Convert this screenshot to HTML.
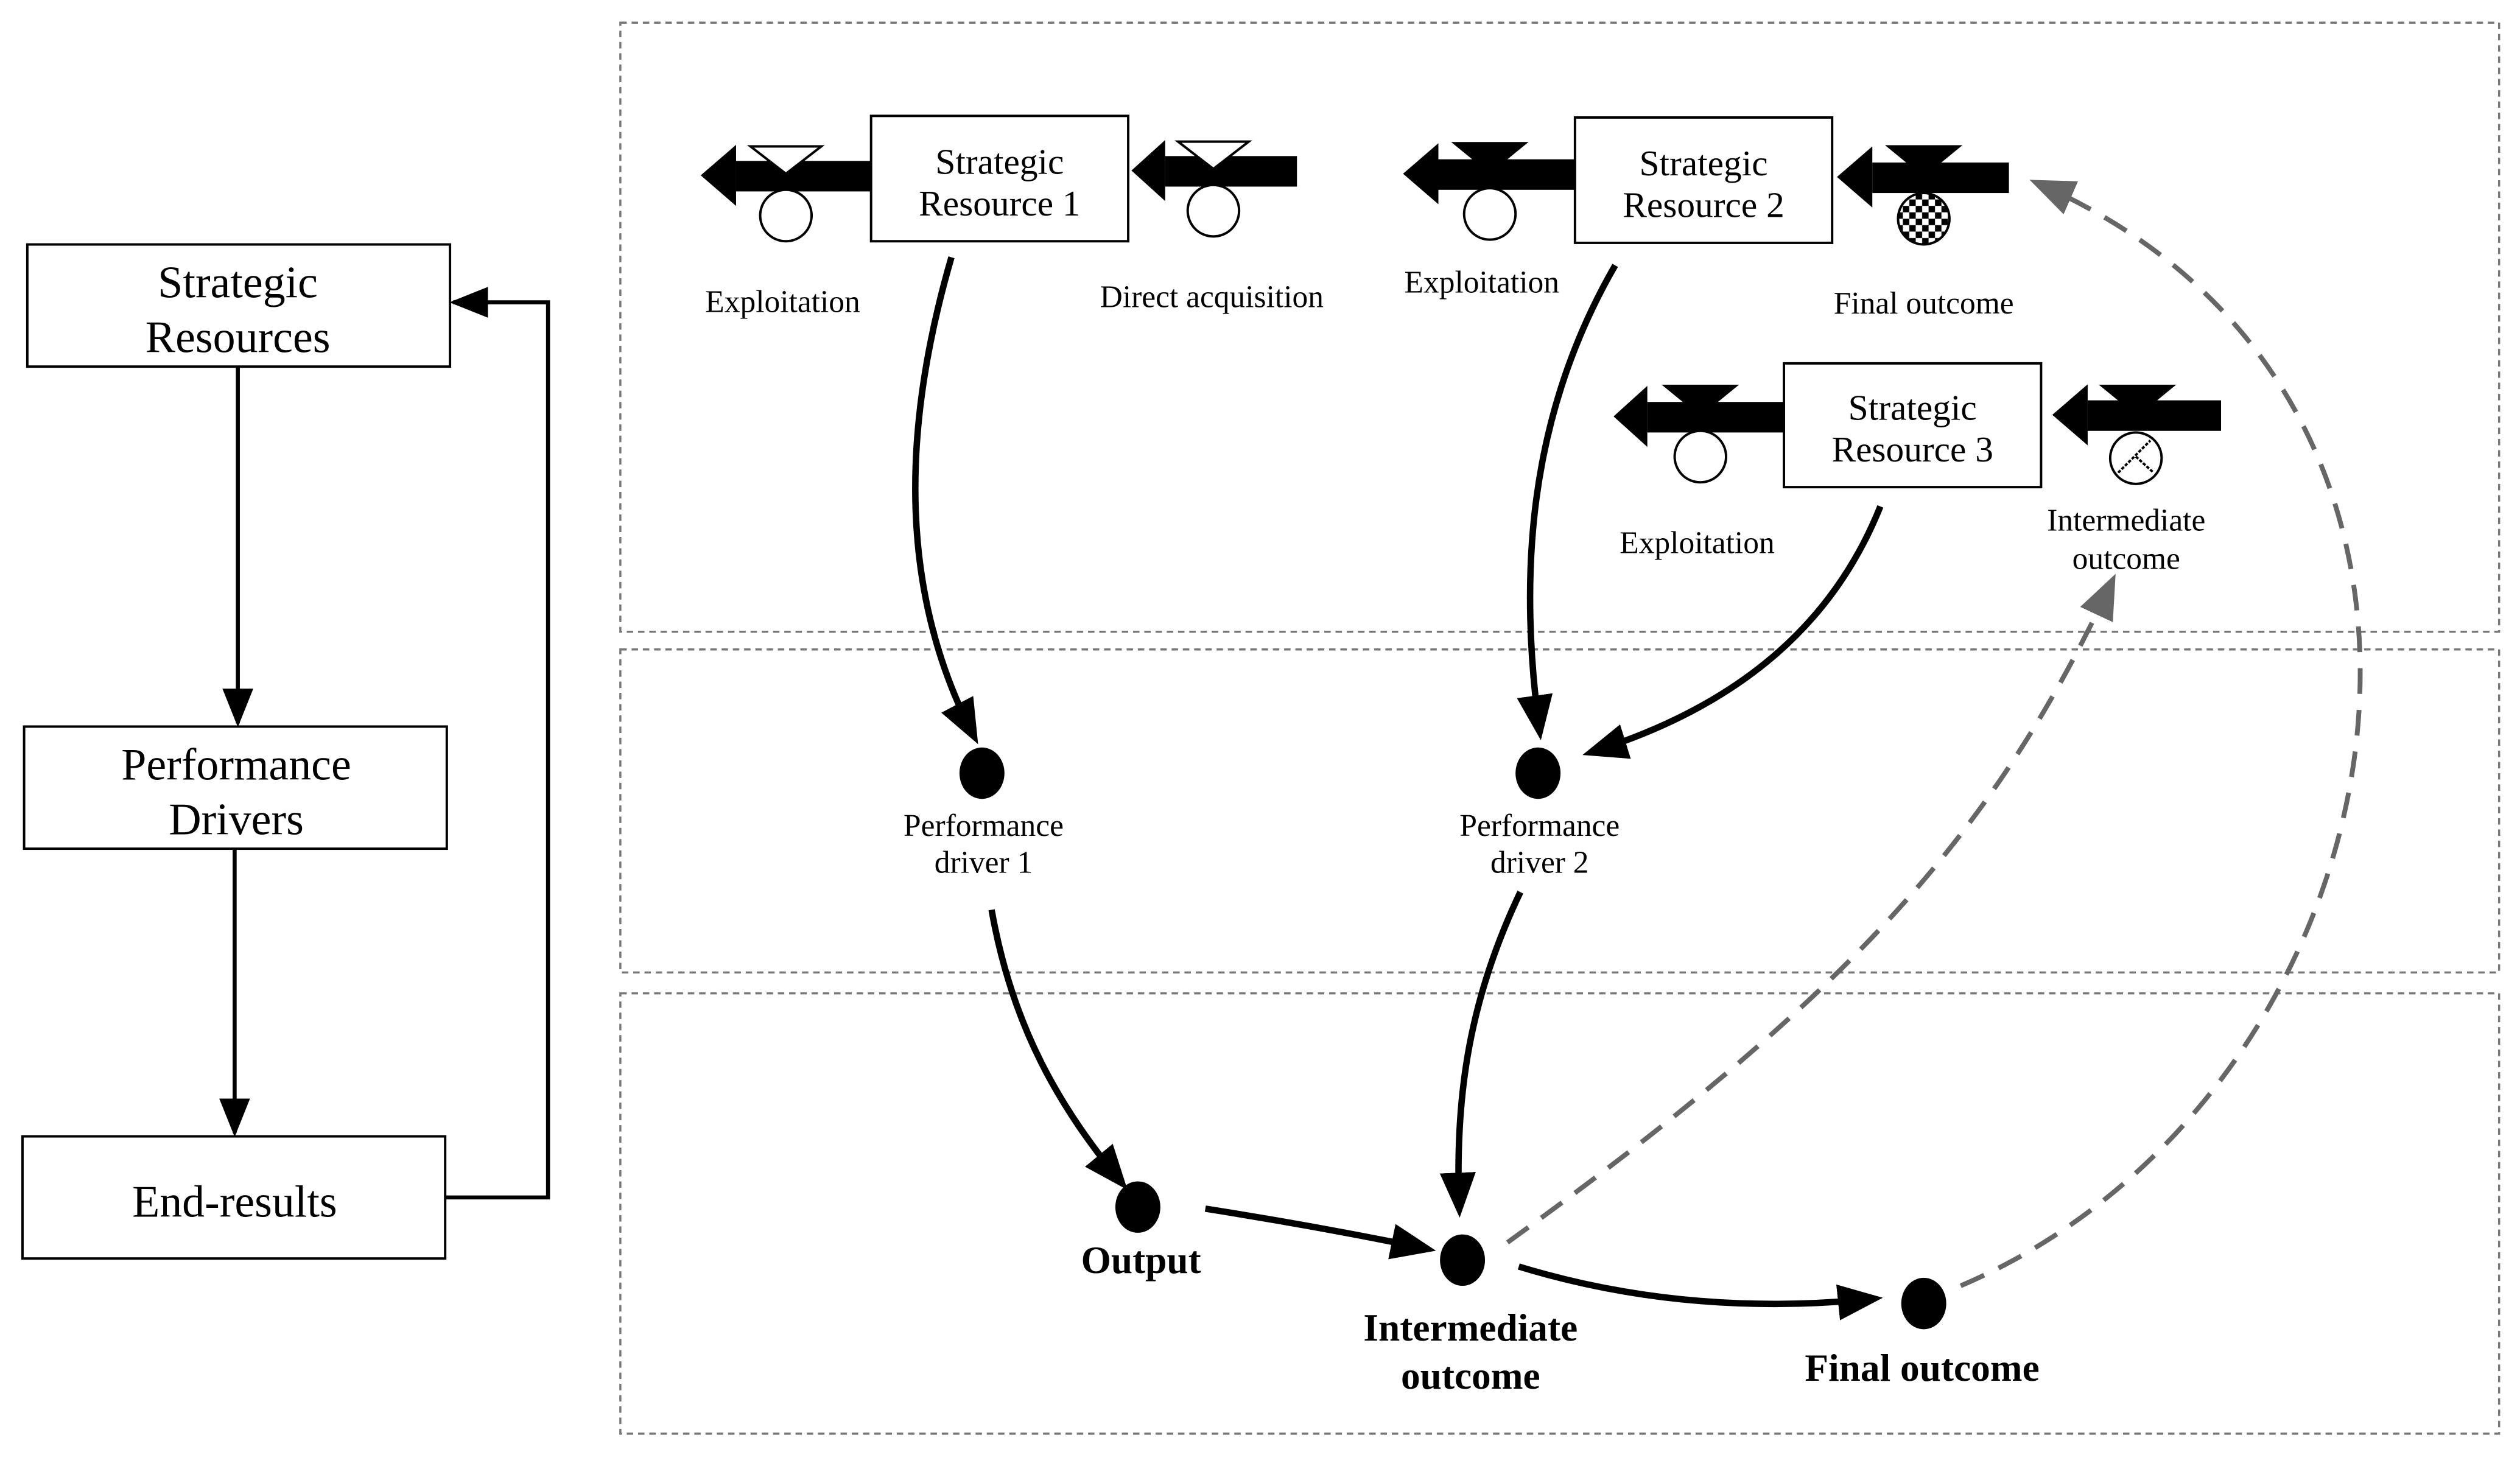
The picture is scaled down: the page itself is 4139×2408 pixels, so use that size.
<!DOCTYPE html>
<html><head><meta charset="utf-8"><style>
html,body{margin:0;padding:0;background:#fff;}
svg{display:block;}
text{font-family:"Liberation Serif",serif;fill:#000;}
</style></head><body>
<svg width="4139" height="2408" viewBox="0 0 1568 912" xmlns="http://www.w3.org/2000/svg">
<defs>
<marker id="ab" viewBox="0 0 10 10" refX="8" refY="5" markerWidth="28" markerHeight="28" orient="auto" markerUnits="userSpaceOnUse"><path d="M0,1 L10,5 L0,9 z" fill="#000"/></marker>
<marker id="ag" viewBox="0 0 10 10" refX="8" refY="5" markerWidth="28" markerHeight="28" orient="auto" markerUnits="userSpaceOnUse"><path d="M0,1 L10,5 L0,9 z" fill="#666"/></marker>
<marker id="al" viewBox="0 0 10 10" refX="9" refY="5" markerWidth="24" markerHeight="24" orient="auto" markerUnits="userSpaceOnUse"><path d="M0,1 L10,5 L0,9 z" fill="#000"/></marker>
<pattern id="chk" width="8" height="8" patternUnits="userSpaceOnUse"><rect width="8" height="8" fill="#fff"/><rect width="4" height="4" fill="#000"/><rect x="4" y="4" width="4" height="4" fill="#000"/></pattern>
</defs>

<!-- Left column -->
<g stroke="#000" stroke-width="1.5" fill="#fff">
<rect x="17" y="152" width="263" height="76"/>
<rect x="15" y="452" width="263" height="76"/>
<rect x="14" y="707" width="263" height="76"/>
</g>
<g font-size="28" text-anchor="middle">
<text x="148" y="185">Strategic</text><text x="148" y="219">Resources</text>
<text x="147" y="485">Performance</text><text x="147" y="519">Drivers</text>
<text x="146" y="757">End-results</text>
</g>
<g stroke="#000" stroke-width="2.5" fill="none">
<path d="M148,228 L148,450" marker-end="url(#al)"/>
<path d="M146,528 L146,705" marker-end="url(#al)"/>
<path d="M277,745 L341,745 L341,188 L282,188" marker-end="url(#al)"/>
</g>

<!-- Panels -->
<g stroke="#777" stroke-width="1.3" stroke-dasharray="4,3" fill="none">
<rect x="386" y="14" width="1169" height="379"/>
<rect x="386" y="404" width="1169" height="201"/>
<rect x="386" y="618" width="1169" height="274"/>
</g>

<!-- Flow arrows -->
<g fill="#000">
<rect x="458" y="100" width="84" height="19"/><path d="M458,90 L436,109 L458,128 z"/>
<rect x="725" y="97" width="82" height="19"/><path d="M725,87 L704,106 L725,125 z"/>
<rect x="895" y="99" width="85" height="19"/><path d="M895,89 L873,108 L895,127 z"/>
<rect x="1165" y="101" width="85" height="19"/><path d="M1165,91 L1143,110 L1165,129 z"/>
<rect x="1025" y="250" width="85" height="19"/><path d="M1025,240 L1004,259 L1025,278 z"/>
<rect x="1299" y="249" width="83" height="19"/><path d="M1299,239 L1277,258 L1299,277 z"/>
</g>
<g stroke="#000" stroke-width="1.5">
<path d="M467,91 L511,91 L489,108 z" fill="#fff"/>
<path d="M733,88 L777,88 L755,105 z" fill="#fff"/>
<path d="M905,89 L949,89 L927,107 z" fill="#000"/>
<path d="M1175,91 L1219,91 L1197,109 z" fill="#000"/>
<path d="M1036,240 L1080,240 L1058,258 z" fill="#000"/>
<path d="M1308,240 L1352,240 L1330,258 z" fill="#000"/>
<circle cx="489" cy="134" r="16" fill="#fff"/>
<circle cx="755" cy="131" r="16" fill="#fff"/>
<circle cx="927" cy="133" r="16" fill="#fff"/>
<circle cx="1197" cy="136" r="16" fill="url(#chk)"/>
<circle cx="1058" cy="284" r="16" fill="#fff"/>
<circle cx="1329" cy="285" r="16" fill="#fff"/>
<path d="M1318,294 L1338,274 M1329,284 L1340,294" fill="none" stroke-dasharray="2,1"/>
</g>

<!-- SR boxes -->
<g stroke="#000" stroke-width="1.5" fill="#fff">
<rect x="542" y="72" width="160" height="78"/>
<rect x="980" y="73" width="160" height="78"/>
<rect x="1110" y="226" width="160" height="77"/>
</g>
<g font-size="22.5" text-anchor="middle">
<text x="622" y="108">Strategic</text><text x="622" y="134">Resource 1</text>
<text x="1060" y="109">Strategic</text><text x="1060" y="135">Resource 2</text>
<text x="1190" y="261">Strategic</text><text x="1190" y="287">Resource 3</text>
</g>
<g font-size="19.5" text-anchor="middle">
<text x="487" y="194">Exploitation</text>
<text x="754" y="191">Direct acquisition</text>
<text x="922" y="182">Exploitation</text>
<text x="1197" y="195">Final outcome</text>
<text x="1056" y="344">Exploitation</text>
<text x="1323" y="330">Intermediate</text><text x="1323" y="354">outcome</text>
<text x="612" y="520">Performance</text><text x="612" y="543">driver 1</text>
<text x="958" y="520">Performance</text><text x="958" y="543">driver 2</text>
</g>

<!-- dots -->
<g fill="#000">
<ellipse cx="611" cy="481" rx="14" ry="16"/>
<ellipse cx="957" cy="481" rx="14" ry="16"/>
<ellipse cx="708" cy="751" rx="14" ry="16"/>
<ellipse cx="910" cy="784" rx="14" ry="16"/>
<ellipse cx="1197" cy="811" rx="14" ry="16"/>
</g>
<g font-size="24" font-weight="bold" text-anchor="middle">
<text x="710" y="792">Output</text>
<text x="915" y="834">Intermediate</text><text x="915" y="864">outcome</text>
<text x="1196" y="859">Final outcome</text>
</g>

<!-- connectors -->
<g stroke="#000" stroke-width="4" fill="none">
<path d="M592,160 C560,270 560,370 606,458" marker-end="url(#ab)"/>
<path d="M1005,165 C950,260 945,360 958,455" marker-end="url(#ab)"/>
<path d="M1170,315 C1140,390 1080,440 990,468" marker-end="url(#ab)"/>
<path d="M617,566 C630,640 660,690 698,736" marker-end="url(#ab)"/>
<path d="M946,555 C915,620 905,680 908,752" marker-end="url(#ab)"/>
<path d="M750,752 Q820,763 888,777" marker-end="url(#ab)"/>
<path d="M945,788 Q1050,820 1166,808" marker-end="url(#ab)"/>
</g>
<g stroke="#666" stroke-width="3" stroke-dasharray="16,10" fill="none">
<path d="M938,773 C1150,620 1240,520 1314,362" marker-end="url(#ag)"/>
<path d="M1220,800 C1500,680 1580,250 1268,114" marker-end="url(#ag)"/>
</g>
</svg>
</body></html>
